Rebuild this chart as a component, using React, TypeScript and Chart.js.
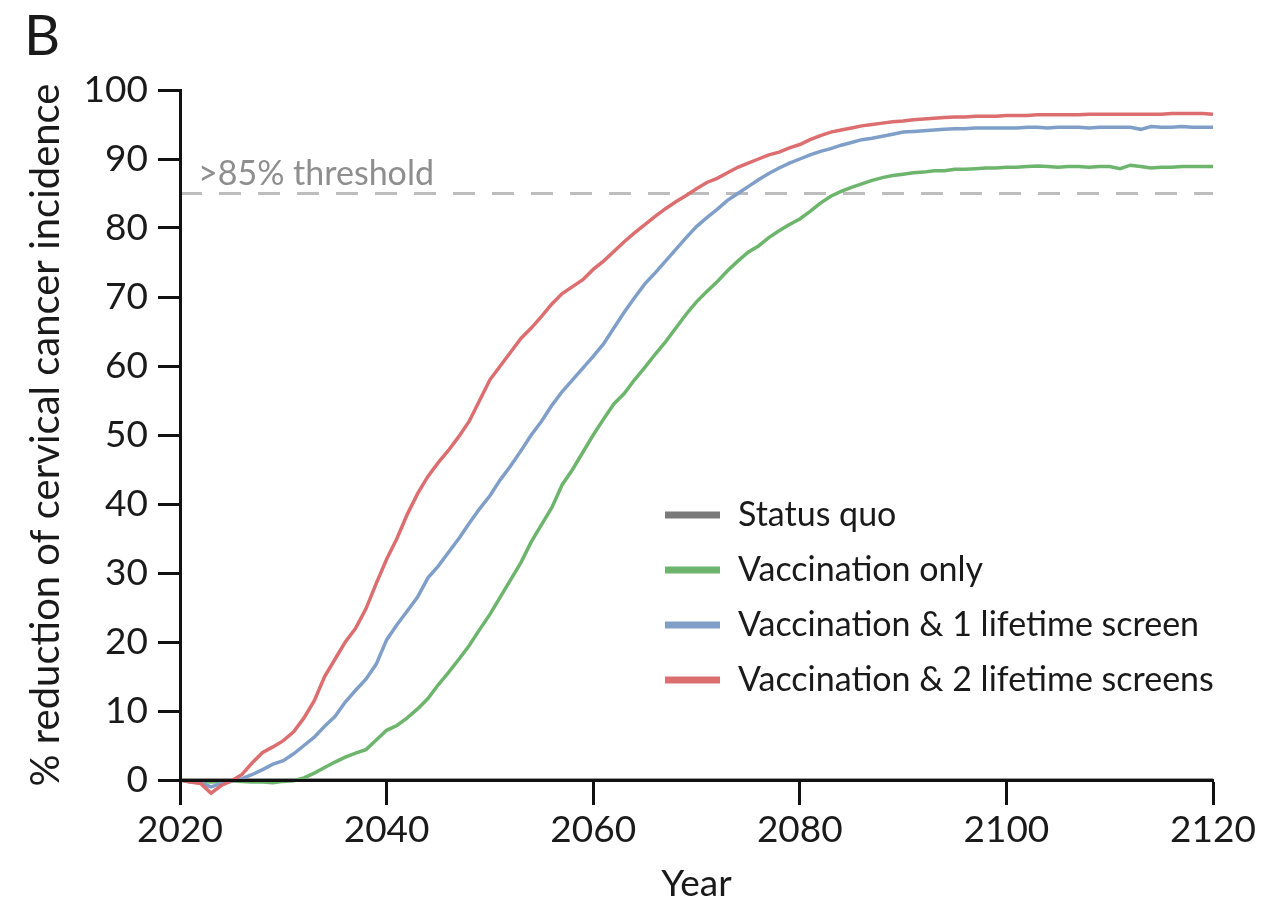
import React, { useEffect, useRef } from 'react';
import { Chart, registerables } from 'chart.js';

Chart.register(...registerables);

// ---------- data ----------
const years: number[] = Array.from({ length: 101 }, (_, i) => 2020 + i);

const statusQuoYears = [2020, 2120];
const statusQuo = [0, 0];

const vaccinationOnly = [
  0, -0.1, -0.2, -0.3, -0.2, -0.1, -0.2, -0.3, -0.3, -0.4,
  -0.2, -0.1, 0.3, 1.0, 1.8, 2.6, 3.3, 3.9, 4.4, 5.8,
  7.2, 7.9, 9.0, 10.3, 11.8, 13.8, 15.6, 17.5, 19.5, 21.8,
  24.0, 26.5, 29.0, 31.5, 34.5, 37.0, 39.5, 42.8, 45.0, 47.5,
  50.0, 52.3, 54.5, 56.0, 58.0, 59.8, 61.7, 63.5, 65.5, 67.5,
  69.3, 70.8, 72.2, 73.8, 75.2, 76.5, 77.4, 78.6, 79.6, 80.5,
  81.3, 82.4, 83.6, 84.6, 85.3, 85.9, 86.4, 86.9, 87.3, 87.6,
  87.8, 88.0, 88.1, 88.3, 88.3, 88.5, 88.5, 88.6, 88.7, 88.7,
  88.8, 88.8, 88.9, 89.0, 88.9, 88.8, 88.9, 88.9, 88.8, 88.9,
  88.9, 88.6, 89.1, 88.9, 88.7, 88.8, 88.8, 88.9, 88.9, 88.9,
  88.9,
];

const vaccinationOneScreen = [
  0, -0.3, -0.4, -1.0, -0.5, -0.2, 0.2, 0.8, 1.5, 2.3,
  2.8, 3.8, 5.0, 6.2, 7.8, 9.2, 11.3, 13.0, 14.6, 16.8,
  20.3, 22.5, 24.5, 26.5, 29.3, 31.0, 33.0, 35.0, 37.2, 39.3,
  41.2, 43.5, 45.5, 47.7, 50.0, 52.0, 54.3, 56.3, 58.0, 59.7,
  61.4, 63.2, 65.5, 67.8, 69.9, 71.9, 73.5, 75.2, 76.9, 78.6,
  80.2, 81.5, 82.7, 84.0, 85.0, 86.0, 87.0, 87.9, 88.7, 89.4,
  90.0, 90.6, 91.1, 91.5, 92.0, 92.4, 92.8, 93.0, 93.3, 93.6,
  93.9, 94.0, 94.1, 94.2, 94.3, 94.4, 94.4, 94.5, 94.5, 94.5,
  94.5, 94.5, 94.6, 94.6, 94.5, 94.6, 94.6, 94.6, 94.5, 94.6,
  94.6, 94.6, 94.6, 94.3, 94.7, 94.6, 94.6, 94.7, 94.6, 94.6,
  94.6,
];

const vaccinationTwoScreens = [
  0, -0.3, -0.5, -1.9, -0.8, -0.1, 0.8, 2.5, 4.0, 4.8,
  5.7, 7.0, 9.0, 11.5, 15.0, 17.5, 20.0, 22.0, 24.8, 28.5,
  32.0, 35.0, 38.5, 41.5, 44.0, 46.0, 47.8, 49.8, 52.0, 55.0,
  58.0, 60.0, 62.0, 64.0, 65.5, 67.2, 69.0, 70.5, 71.5, 72.5,
  74.0, 75.2, 76.6, 78.0, 79.3, 80.5, 81.7, 82.8, 83.8, 84.7,
  85.7, 86.6, 87.2, 88.0, 88.8, 89.4, 90.0, 90.6, 91.0, 91.6,
  92.1, 92.8, 93.4, 93.9, 94.2, 94.5, 94.8, 95.0, 95.2, 95.4,
  95.5, 95.7, 95.8, 95.9, 96.0, 96.1, 96.1, 96.2, 96.2, 96.2,
  96.3, 96.3, 96.3, 96.4, 96.4, 96.4, 96.4, 96.4, 96.5, 96.5,
  96.5, 96.5, 96.5, 96.5, 96.5, 96.5, 96.6, 96.6, 96.6, 96.6,
  96.5,
];

const thresholdYears = [2020, 2120];
const thresholdValue = 85;
const thresholdLabel = '>85% threshold';

const xTicks = [2020, 2040, 2060, 2080, 2100, 2120];
const yTicks = [0, 10, 20, 30, 40, 50, 60, 70, 80, 90, 100];

const seriesLabels = [
  'Status quo',
  'Vaccination only',
  'Vaccination & 1 lifetime screen',
  'Vaccination & 2 lifetime screens',
];
const seriesColors = ['#7a7a7a', '#6db56d', '#7f9fc9', '#dc6e70'];

const panelLabel = 'B';
const xTitle = 'Year';
const yTitle = '% reduction of cervical cancer incidence';

// ---------- helpers ----------
const pts = (xs: number[], ys: number[]) => ys.map((v, i) => ({ x: xs[i], y: v }));

const FONT = 'Lato';

const overlayPlugin = {
  id: 'overlay',
  afterDraw(chart: any) {
    const ctx: CanvasRenderingContext2D = chart.ctx;
    const area = chart.chartArea;
    const ys = chart.scales.y;
    ctx.save();
    // panel letter
    ctx.fillStyle = '#1a1a1a';
    ctx.font = `56px ${FONT}`;
    ctx.textAlign = 'left';
    ctx.textBaseline = 'alphabetic';
    ctx.fillText(panelLabel, 24, 55);
    // threshold label
    ctx.fillStyle = '#8e8e8e';
    ctx.font = `34px ${FONT}`;
    ctx.fillText(thresholdLabel, area.left + 18, ys.getPixelForValue(thresholdValue) - 9);
    // legend
    const lx = 665;
    const rows = [515, 570, 625, 680];
    ctx.font = `34px ${FONT}`;
    ctx.textBaseline = 'middle';
    seriesLabels.forEach((lab, i) => {
      ctx.strokeStyle = seriesColors[i];
      ctx.lineWidth = 7;
      ctx.lineCap = 'butt';
      ctx.beginPath();
      ctx.moveTo(lx, rows[i]);
      ctx.lineTo(lx + 55, rows[i]);
      ctx.stroke();
      ctx.fillStyle = '#1a1a1a';
      ctx.fillText(lab, lx + 73, rows[i]);
    });
    ctx.restore();
  },
};

export default function App() {
  const ref = useRef<HTMLCanvasElement | null>(null);

  useEffect(() => {
    if (!ref.current) return;
    const lineDs = (label: string, data: any, color: string, order: number) => ({
      label,
      data,
      borderColor: color,
      backgroundColor: color,
      borderWidth: 3.5,
      pointRadius: 0,
      tension: 0,
      fill: false,
      clip: false as any,
      order,
    });

    const chart = new Chart(ref.current, {
      type: 'line',
      data: {
        datasets: [
          {
            label: 'threshold',
            data: pts(thresholdYears, [thresholdValue, thresholdValue]),
            borderColor: '#bdbdbd',
            borderWidth: 3,
            borderDash: [22, 17],
            pointRadius: 0,
            fill: false,
            order: 10,
          } as any,
          lineDs(seriesLabels[0], pts(statusQuoYears, statusQuo), seriesColors[0], 5),
          lineDs(seriesLabels[1], pts(years, vaccinationOnly), seriesColors[1], 4),
          lineDs(seriesLabels[2], pts(years, vaccinationOneScreen), seriesColors[2], 3),
          lineDs(seriesLabels[3], pts(years, vaccinationTwoScreens), seriesColors[3], 2),
        ],
      },
      options: {
        responsive: false,
        animation: false,
        events: [],
        layout: { padding: { top: 90, right: 52, left: 0, bottom: 0 } },
        plugins: {
          legend: { display: false },
          tooltip: { enabled: false },
          title: { display: false },
        },
        scales: {
          x: {
            type: 'linear',
            min: 2020,
            max: 2120,
            afterBuildTicks: (s: any) => {
              s.ticks = xTicks.map((v) => ({ value: v }));
            },
            afterFit: (s: any) => {
              s.height = 126;
            },
            ticks: {
              color: '#1a1a1a',
              font: { family: FONT, size: 37 },
              padding: 3,
              maxRotation: 0,
              autoSkip: false,
              z: 1,
              callback: (v: any) => String(v),
            },
            grid: {
              drawOnChartArea: false,
              drawTicks: true,
              tickLength: 25,
              tickWidth: 3,
              tickColor: '#111',
              z: 1,
            },
            border: { display: true, color: '#111', width: 3, z: 2 },
            title: {
              display: true,
              text: xTitle,
              color: '#1a1a1a',
              font: { family: FONT, size: 37 },
              padding: { top: 0, bottom: 0 },
            },
          },
          y: {
            type: 'linear',
            min: 0,
            max: 100,
            afterBuildTicks: (s: any) => {
              s.ticks = yTicks.map((v) => ({ value: v }));
            },
            afterFit: (s: any) => {
              s.width = 180;
            },
            ticks: {
              color: '#1a1a1a',
              font: { family: FONT, size: 37 },
              padding: 10,
              autoSkip: false,
              z: 1,
              callback: (v: any) => String(v),
            },
            grid: {
              drawOnChartArea: false,
              drawTicks: true,
              tickLength: 22,
              tickWidth: 3,
              tickColor: '#111',
              z: 1,
            },
            border: { display: true, color: '#111', width: 3, z: 2 },
            title: {
              display: true,
              text: yTitle,
              color: '#1a1a1a',
              font: { family: FONT, size: 40 },
              padding: { top: 22, bottom: 0 },
            },
          },
        },
      } as any,
      plugins: [overlayPlugin],
    });
    return () => chart.destroy();
  }, []);

  return (
    <div style={{ position: 'absolute', left: 0, top: 0, width: 1265, height: 906, background: '#fff' }}>
      <canvas ref={ref} width={1265} height={906} style={{ display: 'block' }} />
    </div>
  );
}
